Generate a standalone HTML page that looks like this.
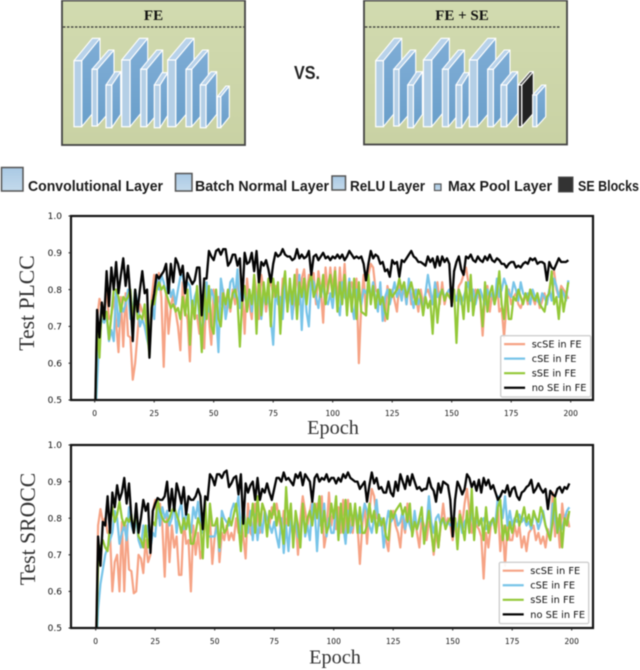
<!DOCTYPE html>
<html lang="en">
<head>
<meta charset="utf-8">
<title>SE block comparison</title>
<style>
html,body{margin:0;padding:0;background:#fff;width:640px;height:670px;overflow:hidden}
svg{display:block;position:absolute;left:0;top:0;filter:blur(0.4px)}
.cal{font-family:"Liberation Sans",sans-serif;font-weight:700;fill:#1c1c1c}
.ser{font-family:"Liberation Serif",serif;fill:#333}
.dj{font-family:"DejaVu Sans",sans-serif;fill:#111}
</style>
</head>
<body>
<svg id="root" width="640" height="670" viewBox="0 0 640 670" xmlns="http://www.w3.org/2000/svg">
<defs>
<linearGradient id="panelFill" x1="0" y1="0" x2="0" y2="1"><stop offset="0" stop-color="#d2dbb0"/><stop offset="1" stop-color="#c9d2a4"/></linearGradient>
<linearGradient id="sideFill" x1="0" y1="0" x2="0" y2="1"><stop offset="0" stop-color="#7fadd6"/><stop offset="1" stop-color="#6a9fca"/></linearGradient>
<linearGradient id="swatchFill" x1="0" y1="0" x2="0" y2="1"><stop offset="0" stop-color="#a9c9e4"/><stop offset="1" stop-color="#c4daec"/></linearGradient>
<clipPath id="clipA"><rect x="71" y="216" width="522" height="184"/></clipPath>
<clipPath id="clipB"><rect x="71" y="445" width="522" height="183"/></clipPath>
</defs>

<g>
<rect x="62" y="0.5" width="183" height="144.5" fill="url(#panelFill)" stroke="#444" stroke-width="1.8"/>
<line x1="63" y1="27" x2="244" y2="27" stroke="#333" stroke-width="1.2" stroke-dasharray="2.4 1.6"/>
<text x="153.5" y="20" text-anchor="middle" font-family="Liberation Serif, serif" font-weight="700" font-size="15" fill="#111">FE</text>
<g id="blocksA"></g>
</g>

<text x="294" y="79" font-family="Liberation Sans, sans-serif" font-weight="700" font-size="18" fill="#222" textLength="26" lengthAdjust="spacingAndGlyphs">VS.</text>

<g>
<rect x="364" y="0.5" width="203" height="144" fill="url(#panelFill)" stroke="#444" stroke-width="1.8"/>
<line x1="365" y1="27" x2="561" y2="27" stroke="#333" stroke-width="1.2" stroke-dasharray="2.4 1.6"/>
<text x="462" y="20" text-anchor="middle" font-family="Liberation Serif, serif" font-weight="700" font-size="15" fill="#111">FE + SE</text>
<g id="blocksB"></g>
</g>

<g>
<rect x="1.5" y="167.5" width="21.5" height="23.5" fill="url(#swatchFill)" stroke="#555" stroke-width="1.5"/>
<text class="cal" x="28" y="191" font-size="15" textLength="135" lengthAdjust="spacingAndGlyphs">Convolutional Layer</text>
<rect x="175.5" y="173.5" width="16.5" height="17.5" fill="url(#swatchFill)" stroke="#555" stroke-width="1.5"/>
<text class="cal" x="195" y="191" font-size="15" textLength="134" lengthAdjust="spacingAndGlyphs">Batch Normal Layer</text>
<rect x="332" y="176" width="13.5" height="14" fill="url(#swatchFill)" stroke="#555" stroke-width="1.5"/>
<text class="cal" x="350" y="191" font-size="15" textLength="75" lengthAdjust="spacingAndGlyphs">ReLU Layer</text>
<rect x="434.5" y="184" width="6.5" height="6.5" fill="url(#swatchFill)" stroke="#555" stroke-width="1.2"/>
<text class="cal" x="448" y="191" font-size="15" textLength="104" lengthAdjust="spacingAndGlyphs">Max Pool Layer</text>
<rect x="558.5" y="177" width="14.5" height="15" fill="#333" stroke="#555" stroke-width="1"/>
<text class="cal" x="578" y="191" font-size="15" textLength="61" lengthAdjust="spacingAndGlyphs">SE Blocks</text>
</g>

<g id="chartA"></g>
<g id="chartB"></g>
</svg>

<script>
var plccOrange = [
.40,.72,.775,.75,.74,.80,.72,.73,.78,.71,.63,.78,.645,.79,.675,.67,.555,.60,.68,.76,.74,.73,.70,.65,.78,
.84,.80,.845,.78,.59,.80,.68,.75,.79,.74,.70,.635,.82,.74,.72,.605,.77,.72,.73,.68,.78,.64,.80,.72,.65,
.80,.73,.78,.76,.80,.75,.78,.74,.80,.76,.84,.75,.80,.68,.83,.76,.72,.84,.79,.72,.84,.80,.74,.80,.83,
.78,.81,.80,.72,.83,.79,.76,.82,.73,.77,.855,.76,.83,.855,.78,.84,.80,.845,.76,.85,.80,.71,.86,.79,.86,
.80,.86,.76,.86,.78,.87,.76,.80,.82,.78,.83,.60,.76,.84,.73,.84,.87,.86,.80,.79,.76,.77,.715,.81,.78,
.80,.77,.74,.82,.78,.80,.76,.82,.76,.80,.78,.74,.80,.76,.79,.80,.78,.76,.78,.82,.76,.82,.76,.79,.80,
.76,.79,.77,.81,.82,.84,.86,.82,.78,.76,.80,.79,.77,.675,.78,.81,.74,.79,.76,.82,.74,.75,.67,.76,.80,
.76,.78,.79,.76,.75,.77,.79,.76,.80,.78,.76,.79,.75,.77,.79,.76,.80,.84,.85,.80,.78,.81,.80,.79,.775];
var plccBlue = [
.40,.55,.68,.72,.71,.73,.66,.69,.66,.80,.70,.76,.74,.76,.80,.72,.74,.80,.76,.70,.72,.70,.665,.64,.76,
.72,.84,.80,.84,.82,.79,.82,.78,.80,.76,.80,.835,.84,.79,.82,.81,.74,.78,.80,.72,.69,.72,.82,.74,.80,
.78,.74,.63,.83,.79,.72,.76,.82,.83,.78,.855,.75,.82,.78,.76,.80,.74,.82,.76,.80,.72,.79,.76,.78,.72,
.65,.80,.76,.78,.72,.82,.75,.80,.72,.81,.74,.84,.69,.83,.74,.70,.83,.82,.78,.75,.81,.80,.77,.76,.79,
.75,.82,.76,.73,.82,.78,.77,.83,.76,.72,.80,.78,.76,.80,.79,.81,.78,.82,.77,.74,.82,.715,.78,.80,.76,
.79,.82,.78,.80,.77,.82,.76,.83,.78,.75,.80,.76,.78,.74,.79,.84,.80,.76,.82,.78,.79,.80,.78,.79,.80,
.78,.79,.77,.80,.76,.78,.80,.82,.77,.80,.76,.79,.80,.78,.76,.80,.78,.79,.76,.83,.78,.80,.83,.81,.79,
.78,.82,.80,.77,.82,.79,.78,.79,.76,.80,.78,.77,.76,.79,.78,.76,.80,.77,.83,.81,.78,.80,.79,.77,.825];
var plccGreen = [
.40,.70,.615,.76,.72,.74,.665,.73,.80,.80,.78,.74,.78,.77,.78,.80,.71,.80,.72,.73,.72,.76,.69,.62,.77,
.76,.80,.82,.80,.81,.79,.77,.75,.76,.74,.75,.72,.78,.73,.80,.65,.77,.72,.81,.74,.63,.82,.72,.81,.70,
.68,.80,.72,.70,.79,.76,.80,.75,.79,.80,.77,.645,.78,.81,.74,.80,.76,.84,.68,.84,.73,.82,.76,.83,.70,
.83,.78,.82,.68,.80,.85,.74,.83,.76,.84,.72,.82,.78,.83,.76,.82,.84,.78,.80,.83,.78,.84,.76,.81,.84,
.78,.85,.74,.82,.76,.84,.73,.82,.74,.83,.72,.82,.74,.735,.73,.84,.76,.81,.75,.80,.76,.78,.74,.72,.80,
.78,.79,.80,.83,.80,.82,.78,.80,.82,.79,.76,.80,.78,.73,.78,.75,.77,.68,.80,.71,.78,.80,.77,.79,.78,
.77,.80,.655,.80,.78,.72,.82,.74,.84,.73,.78,.80,.78,.70,.82,.74,.79,.81,.76,.79,.85,.76,.72,.81,.72,
.72,.78,.77,.80,.78,.76,.79,.77,.80,.78,.77,.79,.76,.75,.74,.78,.79,.85,.76,.78,.72,.80,.74,.78,.82];
var plccBlack = [
.40,.745,.67,.765,.72,.85,.755,.86,.80,.875,.79,.84,.885,.81,.865,.78,.66,.80,.74,.80,.85,.79,.80,.615,.75,
.79,.84,.83,.84,.85,.87,.79,.87,.82,.885,.87,.84,.865,.79,.845,.83,.815,.825,.86,.86,.73,.83,.83,.905,.89,
.88,.905,.91,.895,.91,.91,.865,.875,.895,.895,.865,.885,.77,.90,.87,.875,.90,.85,.905,.82,.875,.865,.88,.855,.82,
.87,.90,.89,.895,.91,.895,.89,.89,.88,.885,.91,.885,.895,.885,.89,.905,.84,.89,.895,.88,.89,.90,.885,.89,.88,
.89,.885,.895,.885,.895,.88,.89,.905,.895,.885,.89,.885,.89,.87,.825,.87,.905,.885,.895,.89,.87,.875,.85,.855,.835,
.88,.87,.875,.835,.88,.875,.885,.895,.905,.89,.885,.875,.875,.87,.865,.89,.875,.885,.86,.89,.865,.89,.875,.885,.87,
.755,.85,.875,.89,.855,.84,.89,.885,.895,.88,.875,.89,.88,.875,.89,.88,.895,.88,.875,.885,.88,.87,.87,.86,.87,
.875,.875,.86,.865,.86,.87,.875,.87,.885,.88,.885,.87,.875,.875,.87,.825,.875,.86,.855,.87,.885,.875,.875,.875,.88];

var sroccOrange = [
.40,.78,.825,.79,.80,.76,.76,.60,.68,.70,.60,.79,.60,.78,.66,.655,.595,.60,.70,.69,.65,.74,.68,.70,.82,
.85,.80,.84,.78,.64,.82,.68,.78,.72,.75,.645,.645,.80,.73,.74,.60,.78,.70,.76,.69,.72,.80,.76,.80,.675,
.75,.80,.68,.76,.74,.78,.74,.76,.74,.80,.76,.80,.75,.69,.84,.76,.75,.84,.80,.76,.84,.82,.80,.78,.83,
.81,.84,.80,.76,.82,.78,.82,.80,.74,.80,.70,.80,.86,.82,.78,.82,.85,.80,.84,.78,.86,.72,.76,.87,.78,
.82,.77,.83,.76,.85,.76,.85,.78,.76,.82,.78,.675,.78,.84,.73,.82,.88,.86,.80,.80,.78,.79,.74,.71,.80,
.82,.78,.76,.72,.80,.76,.84,.78,.77,.80,.76,.72,.80,.78,.74,.79,.77,.70,.76,.72,.78,.84,.78,.80,.78,
.74,.80,.76,.82,.78,.84,.88,.82,.76,.80,.78,.77,.75,.635,.76,.72,.78,.80,.76,.83,.71,.78,.67,.78,.74,
.74,.78,.75,.78,.72,.75,.71,.76,.77,.78,.74,.76,.73,.75,.72,.77,.74,.87,.75,.80,.72,.84,.78,.81,.775];
var sroccBlue = [
.40,.55,.62,.66,.70,.72,.74,.76,.82,.80,.73,.76,.78,.74,.83,.78,.76,.80,.74,.72,.78,.75,.78,.72,.76,
.75,.84,.78,.83,.80,.82,.78,.80,.84,.76,.82,.84,.77,.82,.78,.76,.83,.80,.845,.78,.76,.82,.75,.75,.75,
.75,.78,.71,.82,.80,.79,.78,.82,.84,.82,.86,.76,.84,.78,.76,.82,.74,.81,.74,.80,.76,.82,.80,.78,.76,
.79,.75,.72,.80,.705,.78,.71,.80,.76,.80,.75,.74,.83,.75,.78,.74,.84,.83,.71,.82,.78,.84,.75,.80,.76,
.76,.84,.75,.82,.78,.73,.82,.76,.78,.83,.80,.76,.80,.84,.82,.78,.76,.80,.85,.78,.80,.72,.78,.82,.79,
.80,.81,.78,.79,.82,.77,.80,.78,.76,.82,.77,.79,.80,.76,.78,.86,.79,.76,.80,.81,.78,.80,.78,.79,.78,
.79,.77,.78,.80,.76,.79,.80,.78,.82,.76,.80,.78,.79,.80,.77,.79,.78,.80,.79,.86,.84,.80,.86,.78,.82,
.78,.80,.79,.81,.79,.80,.78,.79,.77,.81,.80,.77,.79,.82,.78,.76,.745,.84,.80,.76,.78,.77,.80,.82,.83];
var sroccGreen = [
.40,.67,.72,.74,.72,.71,.78,.83,.79,.81,.845,.80,.78,.80,.79,.81,.76,.83,.75,.74,.72,.78,.72,.76,.79,
.78,.85,.82,.80,.79,.79,.80,.82,.83,.81,.79,.76,.80,.77,.81,.73,.73,.76,.80,.78,.69,.85,.72,.84,.78,
.78,.80,.72,.80,.76,.77,.80,.78,.81,.84,.78,.71,.84,.75,.80,.78,.84,.76,.86,.78,.84,.82,.75,.82,.80,
.84,.78,.82,.78,.73,.885,.78,.84,.72,.82,.78,.72,.84,.76,.80,.82,.78,.84,.80,.86,.76,.82,.76,.78,.84,
.80,.86,.74,.84,.76,.85,.76,.84,.78,.84,.76,.83,.76,.76,.78,.84,.79,.82,.76,.81,.78,.80,.75,.74,.82,
.80,.82,.83,.84,.81,.83,.79,.84,.75,.79,.77,.80,.83,.73,.78,.82,.76,.71,.79,.72,.79,.80,.77,.79,.80,
.78,.80,.715,.81,.78,.74,.82,.76,.88,.74,.83,.78,.80,.74,.83,.76,.79,.80,.76,.83,.85,.74,.78,.74,.79,
.76,.79,.82,.78,.80,.83,.79,.81,.78,.82,.80,.79,.83,.81,.78,.76,.74,.79,.86,.76,.81,.72,.80,.78,.82];
var sroccBlack = [
.40,.75,.67,.79,.78,.86,.76,.87,.83,.89,.85,.87,.91,.84,.895,.80,.76,.84,.76,.80,.85,.82,.84,.705,.82,
.84,.855,.85,.85,.86,.90,.82,.88,.82,.895,.87,.84,.885,.81,.86,.85,.85,.86,.88,.86,.77,.86,.85,.92,.91,
.89,.92,.92,.91,.925,.93,.885,.895,.91,.915,.865,.92,.785,.895,.87,.89,.90,.85,.91,.85,.88,.87,.895,.87,.85,
.88,.91,.91,.90,.925,.905,.91,.90,.89,.92,.91,.925,.89,.92,.91,.90,.845,.91,.92,.90,.91,.905,.92,.90,.91,
.91,.895,.91,.90,.92,.91,.925,.91,.905,.90,.90,.88,.89,.90,.845,.89,.925,.895,.91,.88,.885,.87,.87,.90,.87,
.86,.90,.875,.92,.90,.88,.915,.89,.92,.90,.88,.885,.875,.88,.88,.91,.885,.875,.845,.895,.87,.90,.895,.89,.85,
.75,.85,.90,.885,.865,.88,.92,.91,.885,.90,.875,.905,.87,.91,.89,.905,.88,.89,.87,.85,.86,.875,.87,.89,.86,
.88,.885,.86,.85,.87,.875,.885,.89,.905,.87,.88,.895,.88,.87,.88,.825,.875,.865,.86,.88,.885,.87,.885,.88,.895];

var seriesNames = ["scSE in FE","cSE in FE","sSE in FE","no SE in FE"];
var xTickValues = [0,25,50,75,100,125,150,175,200];
var yTickValues = [0.5,0.6,0.7,0.8,0.9,1.0];

var NS = "http://www.w3.org/2000/svg";
var seriesColors = ["#f6a385","#78c4e8","#93c838","#050505"];
var seriesWidths = [2.2,2.2,2.2,2.3];
var seriesKeys = ["scse","cse","sse","no-se"];

function mk(tag, attrs, parent){
  var el = document.createElementNS(NS, tag);
  for (var k in attrs) el.setAttribute(k, attrs[k]);
  parent.appendChild(el);
  return el;
}

function drawChart(host, cfg, allSeries){
  function xScale(v){ return cfg.x0 + (v / 200) * (cfg.x200 - cfg.x0); }
  function yScale(v){ return cfg.bottom - ((v - 0.5) / 0.5) * (cfg.bottom - cfg.top); }

  var bg = mk("rect", {x:cfg.left, y:cfg.top, width:cfg.right-cfg.left, height:cfg.bottom-cfg.top, fill:"#fff"}, host);
  
  

  var lines = mk("g", {"clip-path":"url(#"+cfg.clip+")"}, host);
  
  
  allSeries.forEach(function(values, s){
    var d = values.map(function(v, i){ return xScale(i).toFixed(2) + "," + yScale(v).toFixed(2); }).join(" ");
    var pl = mk("polyline", {points:d, fill:"none", stroke:seriesColors[s], "stroke-width":seriesWidths[s], "stroke-linejoin":"round"}, lines);
    
    
  });

  var frame = mk("rect", {x:cfg.left, y:cfg.top, width:cfg.right-cfg.left, height:cfg.bottom-cfg.top, fill:"none", stroke:"#141414", "stroke-width":2.2}, host);
  
  

  xTickValues.forEach(function(v){
    var px = xScale(v);
    var tick = mk("line", {x1:px, x2:px, y1:cfg.bottom, y2:cfg.bottom+2.5, stroke:"#222", "stroke-width":1}, host);
    
    
    var label = mk("text", {x:px, y:cfg.bottom+16, "text-anchor":"middle", "font-size":7.5, "class":"dj"}, host);
    
    
    label.textContent = String(v);
  });
  yTickValues.forEach(function(v){
    var py = yScale(v);
    var tick = mk("line", {x1:cfg.left-2.5, x2:cfg.left, y1:py, y2:py, stroke:"#222", "stroke-width":1}, host);
    
    
    var label = mk("text", {x:62, y:py+3.2, "text-anchor":"end", "font-size":9, "class":"dj"}, host);
    
    
    label.textContent = v.toFixed(1);
  });

  var yt = mk("text", {x:0, y:0, transform:"translate("+cfg.yTitleX+","+cfg.yTitleY+") rotate(-90)", "text-anchor":"middle", "font-size":21.7, "class":"ser"}, host);
  
  
  yt.textContent = cfg.yTitle;

  var xt = mk("text", {x:cfg.xTitleX, y:cfg.xTitleY, "text-anchor":"middle", "font-size":20.3, "class":"ser"}, host);
  
  
  xt.textContent = "Epoch";

  var lg = mk("g", {}, host);
  
  
  mk("rect", {x:cfg.lgX, y:cfg.lgY, width:cfg.lgW, height:61.3, fill:"#fff", "fill-opacity":0.9, stroke:"#cfcfcf", "stroke-width":1.4, rx:1.5}, lg);
  seriesNames.forEach(function(name, s){
    var ly = cfg.lgY + 8.4 + s * 14.55;
    var entry = mk("g", {}, lg);
    
    
    mk("line", {x1:cfg.lgX+3.4, x2:cfg.lgX+24.4, y1:ly, y2:ly, stroke:seriesColors[s], "stroke-width":seriesWidths[s]}, entry);
    var t = mk("text", {x:cfg.lgX+31, y:ly+3.4, "font-size":9.8, "class":"dj"}, entry);
    t.textContent = name;
  });
}

function drawBlock(host, b, dark){
  var x = b[0], w = b[1], top = b[2], bot = b[3], ex = b[4], etop = b[5];
  var dy = top - etop, dx = ex - (x + w);
  var g = mk("g", {}, host);
  
  
  var stroke = "#fff";
  mk("polygon", {points:[x+w,top, ex,etop, ex,bot-dy, x+w,bot].join(" "), fill: dark ? "#222" : "url(#sideFill)", stroke:stroke, "stroke-width":1.1, "stroke-linejoin":"round"}, g);
  mk("polygon", {points:[x,top, x+dx,etop, ex,etop, x+w,top].join(" "), fill: dark ? "#555" : "#b8d2ea", stroke:stroke, "stroke-width":1.1, "stroke-linejoin":"round"}, g);
  mk("rect", {x:x, y:top, width:w, height:bot-top, fill: dark ? "#2a2a2a" : "#b4cfe6", stroke:stroke, "stroke-width":1.2}, g);
}

var blockGeometryA = [
[74,7.7,60.7,126.7,100,38.3],[92,5.3,69.3,126,114,50],[106,5.7,85,127.7,120.7,71.7],
[121.7,8.3,60,126.7,147.7,38.3],[140.7,6,69.3,126.7,162.7,50],[154.3,5.7,85,127.7,167.7,72.7],
[167.7,8,60,126.7,194,38.3],[186,5.7,69.3,126.7,208.3,50],[200.3,5.7,85,127.7,216.7,71.7],
[217.3,3.4,96.7,127.7,229.3,86]];
var blockGeometryB = [
[375.7,7.7,60.7,126.7,401.7,38.3],[393.7,5.3,69.3,126,415.7,50],[407.7,5.7,85,127.7,422.4,71.7],
[423.4,8.3,60,126.7,449.4,38.3],[442.4,6,69.3,126.7,464.4,50],[456,5.7,85,127.7,469.4,72.7],
[469.4,8,60,126.7,495.7,38.3],[487.7,5.7,69.3,126.7,510,50],[501,5.7,85,126.7,517.7,71.7]];
var blockSe = [518.3,3.4,85,126.7,533.3,71.7];
var blockLast = [532.7,4,95,126.7,545.7,85];

var ga = document.getElementById("blocksA");
blockGeometryA.forEach(function(b){ drawBlock(ga, b, false); });
var gb = document.getElementById("blocksB");
blockGeometryB.forEach(function(b){ drawBlock(gb, b, false); });
drawBlock(gb, blockSe, true);
drawBlock(gb, blockLast, false);

drawChart(document.getElementById("chartA"), {
  left:71, right:593, top:216, bottom:400, x0:94.7, x200:570.7, clip:"clipA",
  yTitle:"Test PLCC", yTitleX:34, yTitleY:303, xTitleX:333, xTitleY:434,
  lgX:500.7, lgY:335.7, lgW:90
}, [plccOrange, plccBlue, plccGreen, plccBlack]);

drawChart(document.getElementById("chartB"), {
  left:71, right:593, top:445, bottom:628, x0:95.7, x200:571.7, clip:"clipB",
  yTitle:"Test SROCC", yTitleX:35, yTitleY:529, xTitleX:335, xTitleY:663.5,
  lgX:499.3, lgY:562.3, lgW:89.4
}, [sroccOrange, sroccBlue, sroccGreen, sroccBlack]);
</script>
</body>
</html>
